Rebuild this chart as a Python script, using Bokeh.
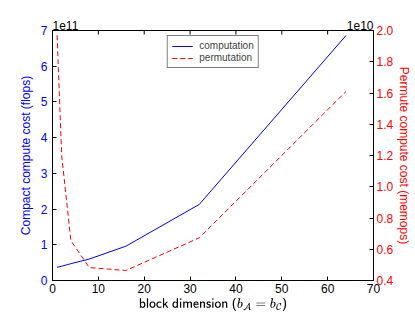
import math
from bokeh.plotting import figure
from bokeh.models import LinearAxis, Range1d, FixedTicker, Legend, LegendItem, Label, CustomJSTickFormatter
from bokeh.embed import file_html
from bokeh.resources import INLINE

# data
block_dim = [1, 2, 4, 8, 16, 32, 64]
computation_e11 = [0.37, 0.40, 0.47, 0.60, 0.96, 2.13, 6.86]   # flops, x1e11
permutation_e10 = [1.97, 1.20, 0.656, 0.483, 0.464, 0.673, 1.61]  # memops, x1e10
x_ticks = [0, 10, 20, 30, 40, 50, 60, 70]
left_ticks = [0, 1, 2, 3, 4, 5, 6, 7]
right_ticks = [0.4, 0.6, 0.8, 1.0, 1.2, 1.4, 1.6, 1.8, 2.0]

FONT = "Liberation Sans"

p = figure(frame_width=321, frame_height=250, output_backend="svg", toolbar_location=None,
           x_range=Range1d(0, 70), y_range=Range1d(0, 7),
           min_border_left=52, min_border_right=5, min_border_top=30, min_border_bottom=5)
p.extra_y_ranges = {"perm": Range1d(0.4, 2.0)}
p.grid.visible = False
p.outline_line_color = "black"
p.outline_line_width = 1
p.background_fill_color = "white"
p.border_fill_color = "white"

r1 = p.line(block_dim, computation_e11, line_color="blue", line_width=1)
r2 = p.line(block_dim, permutation_e10, line_color="red", line_width=1, line_dash="5 3",
            y_range_name="perm")

# inward tick marks on the top spine
p.ray(x=x_ticks, y=7, length=4, length_units="screen", angle=-math.pi / 2,
      line_color="black", line_width=1)

def style(ax, color, lab_standoff, axlab_standoff):
    ax.major_tick_in = 4
    ax.major_tick_out = 0
    ax.minor_tick_line_color = None
    ax.major_tick_line_color = "black"
    ax.axis_line_color = "black"
    ax.major_label_text_color = color
    ax.major_label_text_font = FONT
    ax.major_label_text_font_size = "12px"
    ax.axis_label_text_font = FONT
    ax.axis_label_text_font_size = "12px"
    ax.axis_label_text_font_style = "normal"
    ax.axis_label_text_color = color
    ax.major_label_standoff = lab_standoff
    ax.axis_label_standoff = axlab_standoff

xa = p.xaxis[0]
xa.ticker = FixedTicker(ticks=x_ticks)
style(xa, "black", 3, 2)
xa.axis_label = r"$$\textsf{block dimension (}b_{\mathcal{A}} = b_{\mathcal{C}}\textsf{)}$$"
xa.axis_label_text_font_size = "10px"

ya = p.yaxis[0]
ya.ticker = FixedTicker(ticks=left_ticks)
style(ya, "blue", 5, 5)
ya.axis_label = "Compact compute cost (flops)"

yr = LinearAxis(y_range_name="perm", ticker=FixedTicker(ticks=right_ticks))
style(yr, "red", 3, 1)
yr.axis_label = "Permute compute cost (memops)"
yr.formatter = CustomJSTickFormatter(code="return tick.toFixed(1);")
p.add_layout(yr, "right")

p.add_layout(Label(x=0, y=7, text="1e11", text_font=FONT, text_font_size="12px",
                   text_baseline="bottom", y_offset=1, text_color="black"), "above")
p.add_layout(Label(x=70, y=7, text="1e10", text_font=FONT, text_font_size="12px",
                   text_baseline="bottom", text_align="right", y_offset=1,
                   text_color="black"), "above")

legend = Legend(items=[LegendItem(label="computation", renderers=[r1]),
                       LegendItem(label="permutation", renderers=[r2])],
                location="top_center")
legend.label_text_font = FONT
legend.label_text_font_size = "10px"
legend.border_line_color = "black"
legend.border_line_width = 1
legend.glyph_width = 21
legend.glyph_height = 10
legend.label_height = 10
legend.spacing = 1
legend.padding = 4
legend.margin = 5
legend.label_standoff = 7
legend.background_fill_alpha = 1
p.add_layout(legend)

open("out.html", "w").write(file_html(p, INLINE))
